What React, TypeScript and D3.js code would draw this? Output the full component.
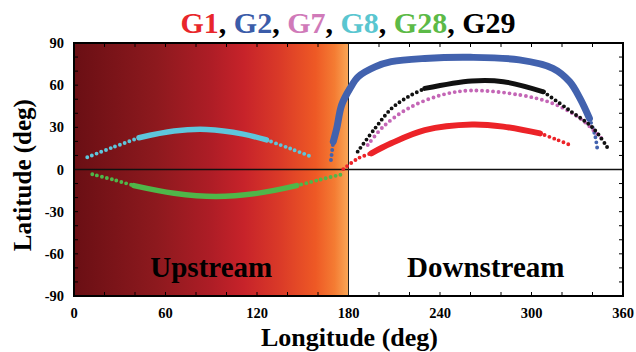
import * as d3 from "d3";
import { useEffect, useRef } from "react";

// сетка и подписи
const xTickLabels = [0, 60, 120, 180, 240, 300, 360];
const yTickLabels = [90, 60, 30, 0, -30, -60, -90];

// G8 (голубой)
const g8Lon = [8.7, 25, 42.6, 65.6, 87, 111, 126.3, 142, 155.8];
const g8Lat = [8.7, 15.6, 22.6, 27.4, 28.5, 25.2, 21, 14.8, 9.1];
// G28 (зелёный)
const g28Lon = [12, 26, 39.3, 65.6, 93, 120, 146, 161, 176.6];
const g28Lat = [-3.4, -7.3, -11.5, -16.9, -19.2, -17, -11.5, -7.3, -3.2];
// G2 (синий)
const g2Lon = [168.5, 170, 172.3, 175.5, 181, 186.4, 197.4, 208, 230, 260, 292, 314, 325, 331.8, 338, 341.6, 343.4];
const g2Lat = [6.8, 19.8, 29.3, 45.9, 57.7, 66, 73, 76.7, 79, 79.8, 78, 72, 62.5, 50.6, 36.4, 24.5, 12.7];
// G29 (чёрный)
const g29Lon = [186, 197.4, 208.3, 219.2, 230, 260.8, 281.5, 307.8, 325, 340.5, 350.4];
const g29Lat = [12.7, 29.3, 43.5, 51.8, 57.7, 63, 62.5, 55.3, 42, 29.3, 14.6];
// G7 (розовый)
const g7Lon = [192.6, 202.8, 219.2, 241, 260.8, 292.5, 314, 331.8, 348];
const g7Lat = [17.4, 30.5, 43.5, 53, 56.2, 53, 47, 36.4, 19.8];
// G1 (красный)
const g1Lon = [176.6, 186.4, 195, 208, 230, 261, 281.5, 305.6, 316, 326.4];
const g1Lat = [0.3, 8, 11.5, 18.6, 28, 32, 30.5, 25.7, 21.5, 17];

// плотные участки: [начальный индекс, конечный индекс]
const series = [
    { name: "G2", lon: g2Lon, lat: g2Lat, dense: [1, 14], color: "#4262ae", width: 7 },
    { name: "G7", lon: g7Lon, lat: g7Lat, dense: null, color: "#c466b6", width: 3.4 },
    { name: "G1", lon: g1Lon, lat: g1Lat, dense: [2, 7], color: "#ec2328", width: 6 },
    { name: "G8", lon: g8Lon, lat: g8Lat, dense: [2, 6], color: "#5ec6dc", width: 5.5 },
    { name: "G28", lon: g28Lon, lat: g28Lat, dense: [2, 6], color: "#4fb749", width: 5.5 },
    { name: "G29", lon: g29Lon, lat: g29Lat, dense: [4, 7], color: "#111111", width: 5 },
];

const title = [
    { t: "G1", c: "#e8262b" },
    { t: ", ", c: "#000" },
    { t: "G2", c: "#3b5ca9" },
    { t: ", ", c: "#000" },
    { t: "G7", c: "#d07ab9" },
    { t: ", ", c: "#000" },
    { t: "G8", c: "#5ac6d0" },
    { t: ", ", c: "#000" },
    { t: "G28", c: "#5cba47" },
    { t: ", ", c: "#000" },
    { t: "G29", c: "#000" },
];

const W = 636;
const H = 352;
const margin = { top: 43, bottom: 56, left: 74, right: 13 };
const font = "'Liberation Serif', 'Times New Roman', serif";

const App = () => {
    const chartRef = useRef(null);

    useEffect(() => {
        const svg = d3.select(chartRef.current);
        svg.selectAll("*").remove();

        const x = d3.scaleLinear().domain([0, 360]).range([margin.left, W - margin.right]);
        const y = d3.scaleLinear().domain([-90, 90]).range([H - margin.bottom, margin.top]);

        // градиент upstream
        const defs = svg.append("defs");
        const grad = defs.append("linearGradient").attr("id", "up").attr("x1", "0").attr("x2", "1").attr("y1", "0").attr("y2", "0");
        [
            [0, "#6a0f14"],
            [0.3, "#8d191e"],
            [0.5, "#ae1d26"],
            [0.62, "#c7232a"],
            [0.75, "#da3a28"],
            [0.88, "#ee5925"],
            [0.95, "#f47c33"],
            [1, "#f9a757"],
        ].forEach(([o, c]) => grad.append("stop").attr("offset", o).attr("stop-color", c));

        svg.append("rect")
            .attr("x", x(0)).attr("y", y(90))
            .attr("width", x(180) - x(0)).attr("height", y(-90) - y(90))
            .attr("fill", "url(#up)");

        // подписи зон
        svg.append("text").attr("x", x(90)).attr("y", 277).attr("text-anchor", "middle")
            .style("font-family", font).style("font-weight", "bold").style("font-size", "29px")
            .text("Upstream");
        svg.append("text").attr("x", x(270)).attr("y", 277).attr("text-anchor", "middle")
            .style("font-family", font).style("font-weight", "bold").style("font-size", "29px")
            .text("Downstream");

        // засечки внутрь
        const tk = svg.append("g").attr("stroke", "#000").attr("stroke-width", 1);
        d3.range(20, 360, 20).forEach(v => {
            tk.append("line").attr("x1", x(v)).attr("x2", x(v)).attr("y1", y(-90)).attr("y2", y(-90) - 4);
            tk.append("line").attr("x1", x(v)).attr("x2", x(v)).attr("y1", y(90)).attr("y2", y(90) + 4);
        });
        d3.range(-80, 90, 10).forEach(v => {
            tk.append("line").attr("x1", x(0)).attr("x2", x(0) + 4).attr("y1", y(v)).attr("y2", y(v));
            tk.append("line").attr("x1", x(360)).attr("x2", x(360) - 4).attr("y1", y(v)).attr("y2", y(v));
        });

        // линии 0 и 180
        svg.append("line").attr("x1", x(0)).attr("x2", x(360)).attr("y1", y(0)).attr("y2", y(0))
            .attr("stroke", "#111").attr("stroke-width", 1.6);
        svg.append("line").attr("x1", x(180)).attr("x2", x(180)).attr("y1", y(90)).attr("y2", y(-90))
            .attr("stroke", "#222").attr("stroke-width", 1);

        // кривые
        const line = d3.line().x(d => x(d[0])).y(d => y(d[1])).curve(d3.curveCatmullRom);
        series.forEach(s => {
            const pts = s.lon.map((v, i) => [v, s.lat[i]]);
            const g = svg.append("g");
            const dotted = (p) => g.append("path").attr("d", line(p)).attr("fill", "none")
                .attr("stroke", s.color).attr("stroke-width", 3.9).attr("stroke-linecap", "round")
                .attr("stroke-dasharray", "0 5");
            if (!s.dense) {
                dotted(pts).attr("stroke-dasharray", "0 5.5");
                return;
            }
            const [a, b] = s.dense;
            if (a > 0) dotted(pts.slice(0, a + 1));
            if (b < pts.length - 1) dotted(pts.slice(b));
            g.append("path").attr("d", line(pts.slice(a, b + 1))).attr("fill", "none")
                .attr("stroke", s.color).attr("stroke-width", s.width).attr("stroke-linecap", "round");
        });

        // рамка
        svg.append("rect")
            .attr("x", x(0)).attr("y", y(90))
            .attr("width", x(360) - x(0)).attr("height", y(-90) - y(90))
            .attr("fill", "none").attr("stroke", "#000").attr("stroke-width", 2);

        // подписи осей
        svg.append("g").selectAll("text").data(xTickLabels).enter().append("text")
            .attr("x", d => x(d)).attr("y", 318).attr("text-anchor", "middle")
            .style("font-family", font).style("font-weight", "bold").style("font-size", "14.5px")
            .text(d => d);
        svg.append("g").selectAll("text").data(yTickLabels).enter().append("text")
            .attr("x", 64).attr("y", d => y(d) + 5).attr("text-anchor", "end")
            .style("font-family", font).style("font-weight", "bold").style("font-size", "14.5px")
            .text(d => d);

        svg.append("text").attr("x", x(180) + 1).attr("y", 346).attr("text-anchor", "middle")
            .style("font-family", font).style("font-weight", "bold").style("font-size", "26px")
            .text("Longitude (deg)");
        svg.append("text").attr("transform", `translate(31, ${y(-4)}) rotate(-90)`).attr("text-anchor", "middle")
            .style("font-family", font).style("font-weight", "bold").style("font-size", "25px")
            .text("Latitude (deg)");

        // заголовок
        const tt = svg.append("text").attr("x", 348).attr("y", 33).attr("text-anchor", "middle")
            .style("font-family", font).style("font-weight", "bold").style("font-size", "30px");
        title.forEach(p => tt.append("tspan").attr("fill", p.c).text(p.t));
    }, []);

    return (
        <svg ref={chartRef} width={W} height={H} style={{ position: "absolute", left: 0, top: 0, background: "#fff" }}></svg>
    );
};

export default App;
